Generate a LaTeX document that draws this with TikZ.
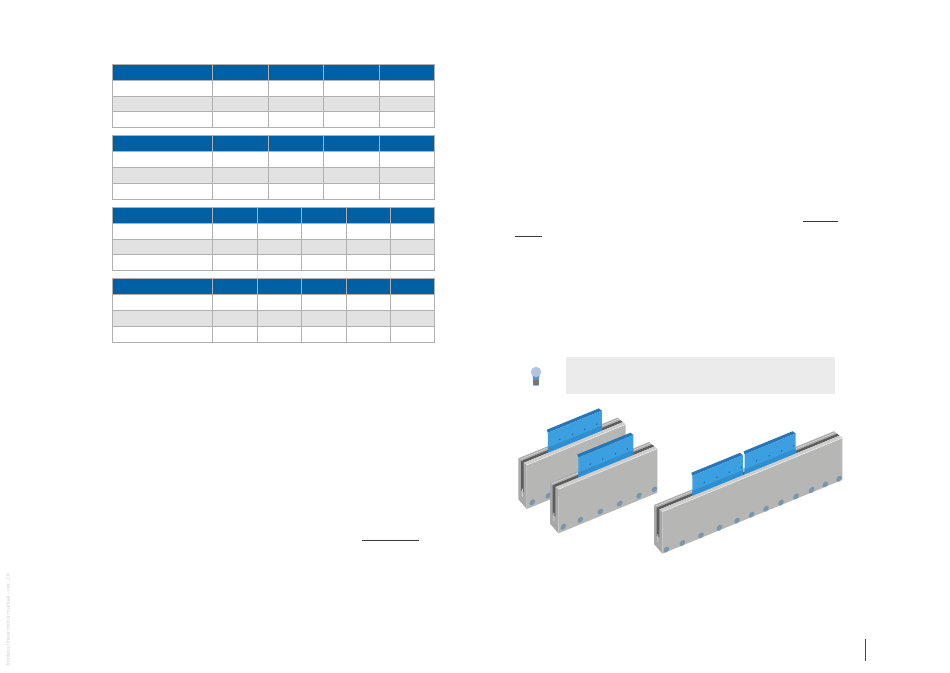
\documentclass[tikz,border=0pt]{standalone}
\usepackage{fontspec}
\setmainfont{Liberation Sans}
\usepackage{xcolor}
\definecolor{headBlue}{RGB}{0,96,165}
\definecolor{gridGrey}{RGB}{176,176,176}
\definecolor{rowGrey}{RGB}{226,226,226}
\definecolor{noteGrey}{RGB}{235,235,235}
\definecolor{inkGrey}{RGB}{58,58,58}
\definecolor{pageBlue}{RGB}{11,92,146}
\definecolor{railFace}{RGB}{182,182,180}
\definecolor{railEnd}{RGB}{168,168,168}
\definecolor{railTop}{RGB}{205,205,205}
\definecolor{railBack}{RGB}{172,172,172}
\definecolor{railSlot}{RGB}{92,92,92}
\definecolor{holeBlue}{RGB}{122,150,172}
\definecolor{sledFace}{RGB}{60,160,224}
\definecolor{sledLow}{RGB}{46,142,208}
\definecolor{sledTop}{RGB}{38,118,184}
\definecolor{sledHole}{RGB}{30,100,150}
\definecolor{bulbGlass}{RGB}{176,196,228}
\definecolor{bulbBody}{RGB}{90,148,204}
\definecolor{bulbCap}{RGB}{119,119,119}
\tikzset{
  gridline/.style={draw=gridGrey,line width=0.9pt},
  underline/.style={draw=inkGrey,line width=1pt},
}
% one motor: origin, length, height, screw holes, carriages
\newcommand{\linmotor}[5]{
  \begin{scope}[shift={#1},x={(1pt,.41pt)},y={(0pt,-1pt)},z={(-8.3pt,6.7pt)}]
    \fill[railEnd] (0,0,0) -- (0,#3,0) -- (0,#3-3,1) -- (0,0,1) -- cycle;
    \fill[railSlot] (0,0,.36) -- (0,.68*#3,.36) -- (0,.68*#3,.68) -- (0,0,.68) -- cycle;
    \fill[railEnd!60!white] (0,.62*#3,.46) -- (0,.8*#3,.46) -- (0,.8*#3,.58) -- (0,.62*#3,.58) -- cycle;
    \fill[railBack] (0,0,.62) -- (#2,0,.62) -- (#2,0,1) -- (0,0,1) -- cycle;
    \draw[white,line width=.4pt,opacity=.7] (0,0,.82) -- (#2,0,.82);
    \fill[railSlot] (0,0,.34) -- (#2,0,.34) -- (#2,0,.62) -- (0,0,.62) -- cycle;
    \foreach \sa/\sb in {#5}{
      \fill[sledTop] (\sa-1,-23.5,.35) -- (\sb-3,-23.5,.35) -- (\sb,-20,.35) -- (\sa,-20,.35) -- cycle;
      \fill[sledFace] (\sa,-20,.35) -- (\sb,-20,.35) -- (\sb,1,.35) -- (\sa,1,.35) -- cycle;
      \fill[sledLow] (\sa,-5,.35) -- (\sb,-5,.35) -- (\sb,1,.35) -- (\sa,1,.35) -- cycle;
      \foreach \d in {12,24.5,37,49}{
        \fill[sledHole] (\sa+\d,-8.5,.35) circle[radius=.8];
      }
    }
    \fill[railTop] (0,0,0) -- (#2,0,0) -- (#2,0,.34) -- (0,0,.34) -- cycle;
    \fill[railFace] (0,0,0) -- (#2,0,0) -- (#2,#3,0) -- (0,#3,0) -- cycle;
    \draw[white,line width=.5pt,opacity=.8] (0,0,0) -- (#2,0,0);
    \foreach \a in {#4}{
      \fill[holeBlue] (\a,39.5,0) circle[radius=2.8];
    }
  \end{scope}
}

\begin{document}
\begin{tikzpicture}[x=1pt,y=-1pt]
  \useasboundingbox (0,0) rectangle (950,672);
  \fill[white] (0,0) rectangle (950,672);

  \foreach \ya/\yb/\yc/\yd/\ye/\xcols in {
      64.3/80.3/96.3/111.3/127.3/{212.3,268.3,323.3,379.3},
      135.3/151.3/167.3/183.3/199.3/{212.3,268.3,323.3,379.3},
      207.3/223.3/239.3/254.3/270.3/{212.3,257.3,301.3,346.3,390.3},
      278.3/294.3/310.3/326.3/342.3/{212.3,257.3,301.3,346.3,390.3}}{
    \fill[headBlue] (112.3,\ya) rectangle (434.3,\yb);
    \fill[rowGrey] (112.3,\yc) rectangle (434.3,\yd);
    \draw[gridline] (112.3,\ya) rectangle (434.3,\ye);
    \foreach \y in {\yb,\yc,\yd}{
      \draw[gridline] (112.3,\y) -- (434.3,\y);
    }
    \foreach \x in \xcols{
      \draw[gridline] (\x,\ya) -- (\x,\ye);
    }
  }

  \draw[underline] (362.3,540.3) -- (419,540.3);
  \draw[underline] (803,221.3) -- (838,221.3);
  \draw[underline] (515,236.3) -- (542.3,236.3);

  \fill[noteGrey] (566,356.7) rectangle (835,394);

  % bulb
  \fill[bulbBody] (532.5,374) -- (539.5,374) -- (538.5,385.7) -- (533.5,385.7) -- cycle;
  \fill[bulbGlass] (536,372) circle[radius=5.2];
  \fill[bulbCap] (533,380) rectangle (539,384.5);

  \linmotor{(526.7,465)}{99}{44}{5.6,21.6,42,61.4,80.7,96}{24/78}
  \linmotor{(558.3,489.3)}{99}{44}{5,22,42,61.4,80.7,96}{22.9/78}
  \linmotor{(662.3,511.7)}{180}{42}{4,20,38.7,57,74.7,89.3,103.7,118.7,133.7,149.3,163,176.7}{32.9/83.5,85.2/136.2}

  \draw[pageBlue,line width=1pt] (865.3,639) -- (865.3,660.7);
  \node[rotate=90,anchor=west,inner sep=0pt,text=black!18,font=\fontsize{5.5}{6}\selectfont] (sidetext) at (8,666) {Ironless linear motor manual - ver. 2.0};
\end{tikzpicture}
\end{document}
